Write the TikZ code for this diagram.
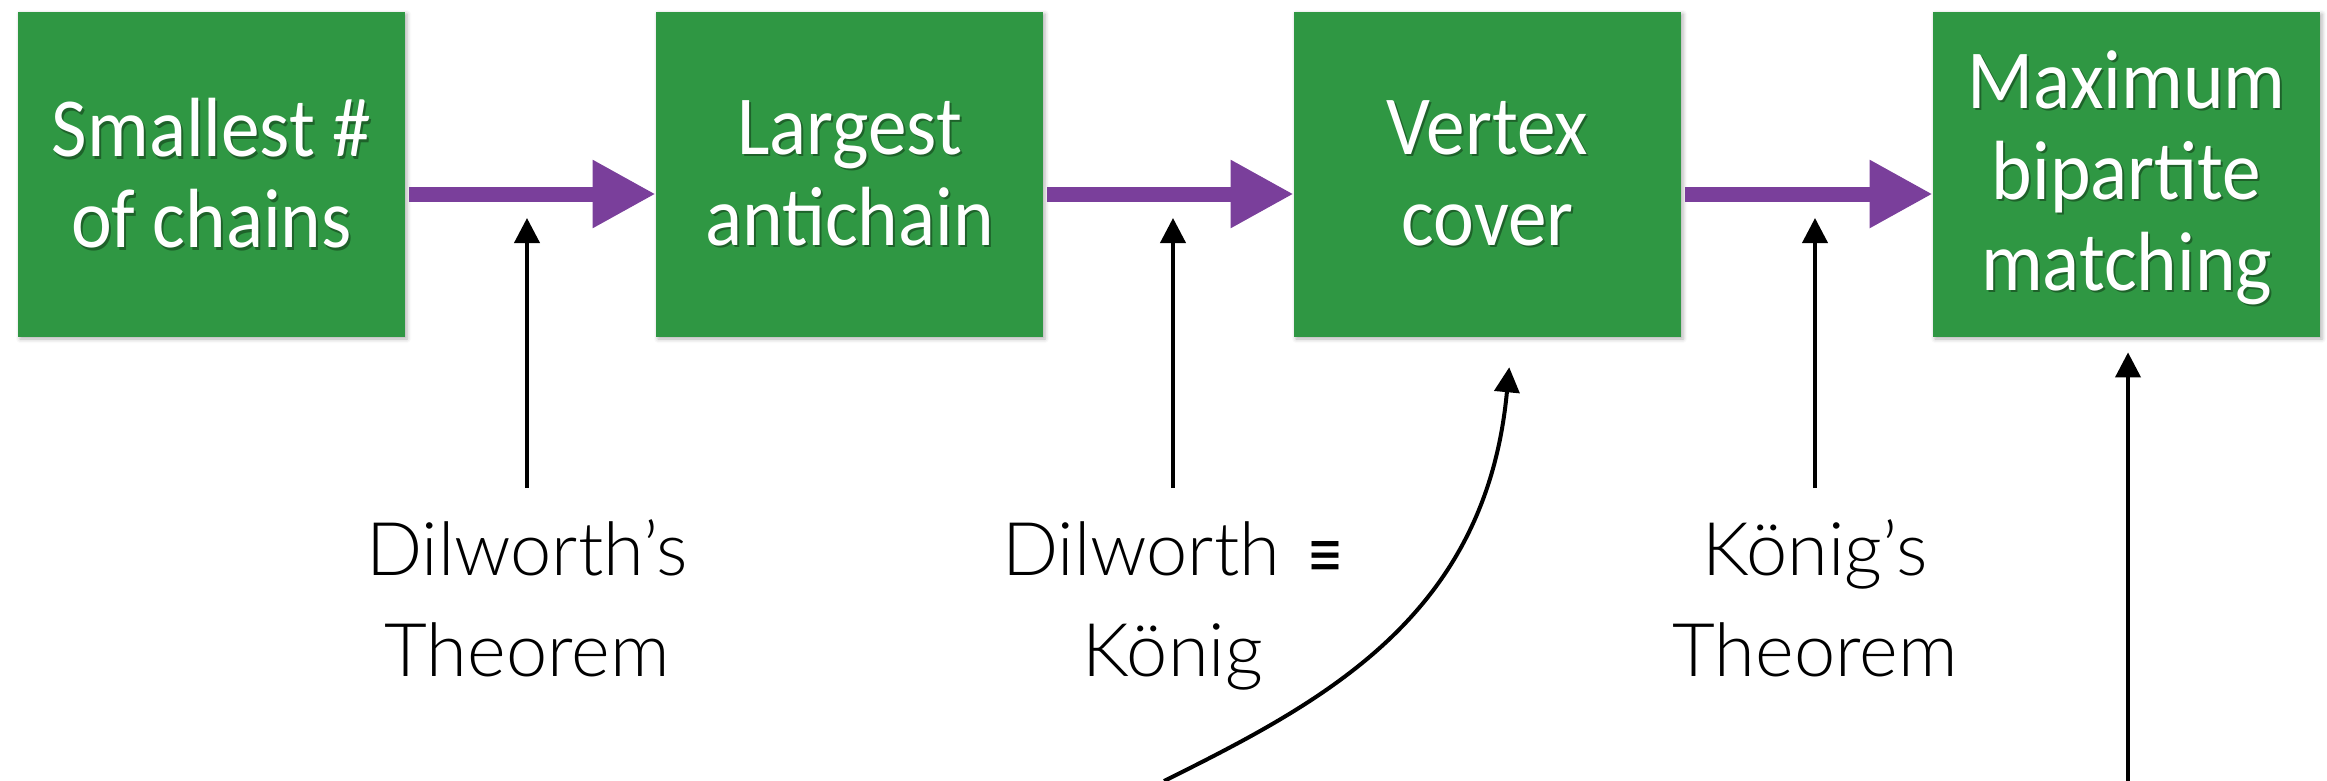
\documentclass[tikz,border=0pt]{standalone}
\usepackage{fontspec}
\usetikzlibrary{arrows.meta,shadows.blur}
\IfFontExistsTF{Lato Light}{\newfontfamily\labfont{Lato Light}}{\newfontfamily\labfont{Lato}}
\newfontfamily\boxfont{Carlito}[FakeStretch=0.92]
\newfontfamily\symfont{DejaVu Sans}
\definecolor{boxgreen}{RGB}{47,151,67}
\definecolor{shgreen}{RGB}{30,98,42}
\definecolor{flowpurple}{RGB}{122,63,155}
% white caption text with a small dark offset shadow underneath
\newcommand{\shtxt}[1]{\makebox[0pt][l]{\hspace{1pt}\raisebox{-1.2pt}{\textcolor{shgreen}{#1}}}#1}
\begin{document}
\begin{tikzpicture}[x=0.5pt,y=-0.5pt,
  stage/.style={rectangle, fill=boxgreen, minimum width=193.5pt, minimum height=162.5pt,
    inner sep=0pt, align=center, text=white, font=\boxfont\fontsize{42}{45.5}\selectfont,
    blur shadow={shadow xshift=1pt, shadow yshift=-1pt, shadow blur radius=2pt, shadow opacity=30}},
  flow/.style={draw=flowpurple, line width=7.5pt, shorten <=2pt,
    -{Triangle[length=31.5pt,width=32pt]}},
  lab/.style={font=\labfont\fontsize{37}{50.5}\selectfont, inner sep=0pt, anchor=base},
  pointer/.style={draw=black, line width=2pt, -{Triangle[length=12.5pt,width=12.5pt]}}]

\useasboundingbox (0,0) rectangle (2327,781);

% the four problems
\node[stage] (b1) at (211.5,174.5) {\shtxt{Smallest \#}\\\shtxt{of chains}};
\node[stage] (b2) at (849.5,174.5) {\shtxt{Largest}\\\shtxt{antichain}};
\node[stage] (b3) at (1487.5,174.5) {\shtxt{Vertex}\\\shtxt{cover}};
\node[stage] (b4) at (2126.5,174.5)
  {\shtxt{Maximum}\\\shtxt{bipartite}\\\raisebox{0pt}[\height][0.1em]{\shtxt{matching}}};

% reductions between them
\draw[flow] ([yshift=-9.75pt]b1.east) -- coordinate[midway] (m1) ([yshift=-9.75pt]b2.west);
\draw[flow] ([yshift=-9.75pt]b2.east) -- coordinate[midway] (m2) ([yshift=-9.75pt]b3.west);
\draw[flow] ([yshift=-9.75pt]b3.east) -- coordinate[midway] (m3) ([yshift=-9.75pt]b4.west);

% theorems justifying each step
\node[lab] (d1) at (527,575) {Dilworth’s};
\node[lab] (d1b) at (527,676) {Theorem};
\node[lab] (d2) at (1173,575) {Dilworth\hspace{14pt}\resizebox{18pt}{17pt}{\symfont ≡}};
\node[lab] (d2b) at (1173,676) {König};
\node[lab] (d3) at (1815,575) {König’s};
\node[lab] (d3b) at (1815,676) {Theorem};

\draw[pointer, shorten >=12pt] ([yshift=43.5pt]d1.base) -- (d1.base |- m1);
\draw[pointer, shorten >=12pt] ([yshift=43.5pt]d2.base) -- (d2.base |- m2);
\draw[pointer, shorten >=12pt] ([yshift=43.5pt]d3.base) -- (d3.base |- m3);

% incoming arrows from below
\coordinate (cstart) at (1164,781);
\coordinate (dstart) at (2128,781);
\draw[pointer, shorten >=15pt] (cstart) .. controls (1325,701) and (1486,616) .. ([xshift=12.25pt]b3.south);
\draw[pointer, shorten >=7.5pt] (dstart) -- (dstart |- b4.south);
\end{tikzpicture}
\end{document}
